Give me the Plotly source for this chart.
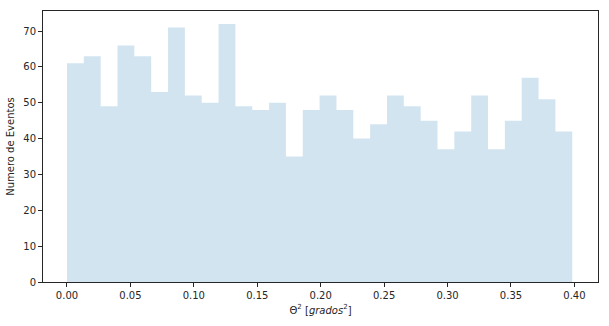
import numpy as np
import plotly.graph_objects as go

counts = [61, 63, 49, 66, 63, 53, 71, 52, 50, 72, 49, 48, 50, 35, 48,
          52, 48, 40, 44, 52, 49, 45, 37, 42, 52, 37, 45, 57, 51, 42]
bin_start = 0.0
bin_end = 0.3983
x_ticks = [0.0, 0.05, 0.10, 0.15, 0.20, 0.25, 0.30, 0.35, 0.40]
y_ticks = [0, 10, 20, 30, 40, 50, 60, 70]

edges = np.linspace(bin_start, bin_end, len(counts) + 1)
# histogram outline as a step line: up from zero, across each bin top, back to zero
step_x = [edges[0]] + list(edges)
step_y = [0] + list(counts) + [0]

fig = go.Figure(go.Scatter(
    x=step_x, y=step_y,
    mode="lines", line=dict(shape="hv", width=0, color="rgba(0,0,0,0)"),
    fill="tozeroy", fillcolor="rgba(31,119,180,0.2)",
    hoverinfo="skip",
))

font = dict(family="DejaVu Sans", size=10, color="#262626")
fig.update_layout(
    width=609, height=326,
    margin=dict(l=42, r=10, t=10, b=44),
    paper_bgcolor="white", plot_bgcolor="white",
    font=font, showlegend=False,
)
fig.update_xaxes(
    range=[-0.0189, 0.4186],
    tickvals=x_ticks, ticktext=[f"{v:.2f}" for v in x_ticks],
    ticks="outside", ticklen=4, tickwidth=1, tickcolor="#262626",
    showline=True, linecolor="#262626", linewidth=1, mirror=True,
    showgrid=False, zeroline=False,
    title=dict(text="Θ<sup>2</sup> [<i>grados</i><sup>2</sup>]", standoff=6, font=font),
)
fig.update_yaxes(
    range=[0, 72 * 1.05],
    tickvals=y_ticks,
    ticks="outside", ticklen=4, tickwidth=1, tickcolor="#262626",
    showline=True, linecolor="#262626", linewidth=1, mirror=True,
    showgrid=False, zeroline=False,
    title=dict(text="Numero de Eventos", standoff=6, font=font),
)
fig.write_html("out.html")
